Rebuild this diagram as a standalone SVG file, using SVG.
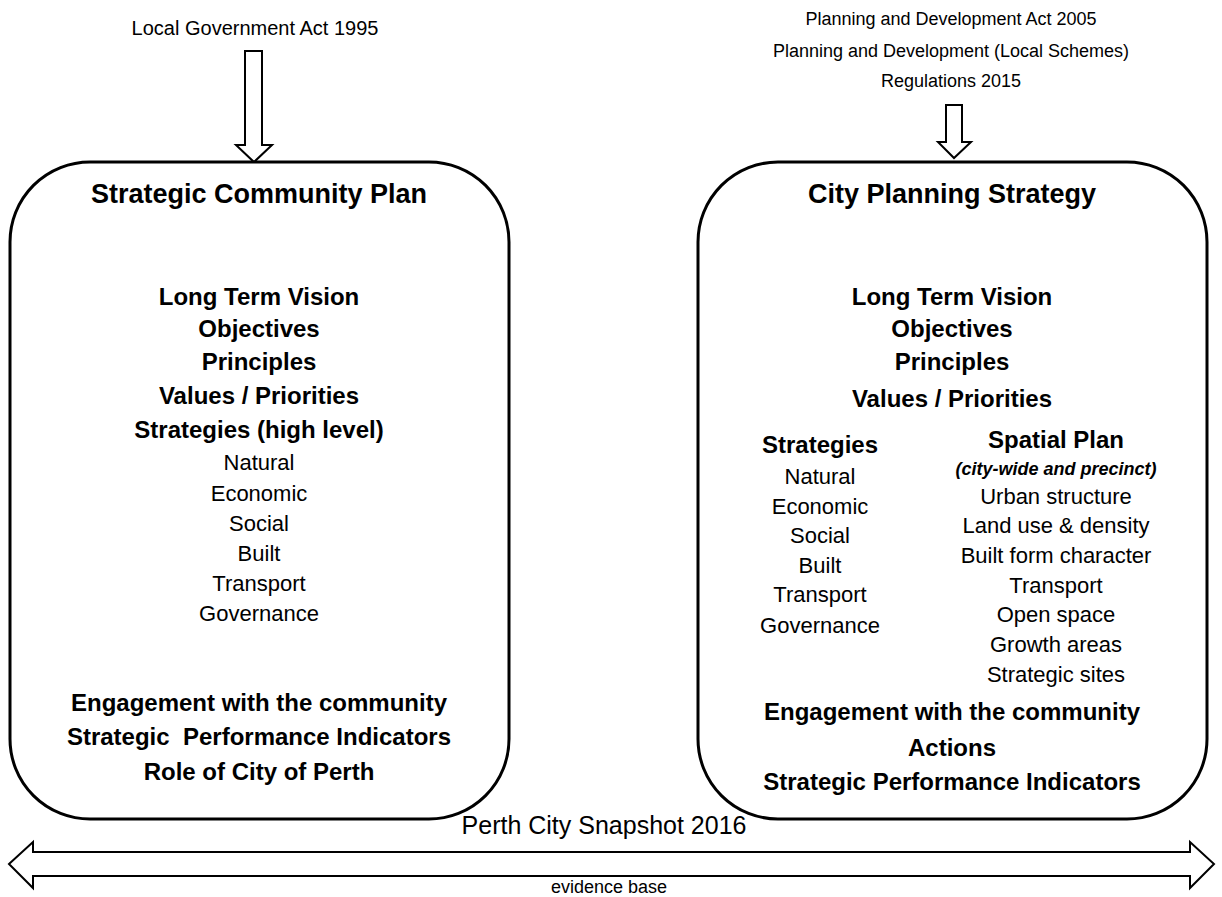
<svg xmlns="http://www.w3.org/2000/svg" width="1222" height="897" viewBox="0 0 1222 897">
<style>
text{font-family:"Liberation Sans",Arial,sans-serif;fill:#000;text-anchor:middle}
.t{font-size:27px;font-weight:bold}
.b{font-size:24px;font-weight:bold}
.r{font-size:22px}
.bi{font-size:18px;font-weight:bold;font-style:italic}
.src{font-size:20px}
.box{fill:#fff;stroke:#000;stroke-width:3}
.arr{fill:#fff;stroke:#000;stroke-width:2;stroke-linejoin:miter}
</style>
<rect width="1222" height="897" fill="#fff"/>
<g id="connectors">
<polygon class="arr" points="245,51 262,51 262,145 272,145 254,162 236,145 245,145"/>
<polygon class="arr" points="946,105 962,105 962,142 971,142 954,158 938,142 946,142"/>
<polygon class="arr" points="9,864 33,842 33,852 1190,852 1190,842 1214,864 1190,888 1190,876 33,876 33,888"/>
</g>
<g id="src-lga">
<text class="src" x="255" y="35" style="font-size:20px">Local Government Act 1995</text>
</g>
<g id="src-pda">
<text class="src" x="951" y="25" style="font-size:18px">Planning and Development Act 2005</text>
<text class="src" x="951" y="57" style="font-size:18px">Planning and Development (Local Schemes)</text>
<text class="src" x="951" y="87" style="font-size:18px">Regulations 2015</text>
</g>
<g id="scp">
<rect class="box" x="10" y="162" width="499" height="657" rx="80" ry="80"/>
<text class="t" x="259" y="203">Strategic Community Plan</text>
<text class="b" x="259" y="305">Long Term Vision</text>
<text class="b" x="259" y="337">Objectives</text>
<text class="b" x="259" y="370">Principles</text>
<text class="b" x="259" y="404">Values / Priorities</text>
<text class="b" x="259" y="438">Strategies (high level)</text>
<text class="r" x="259" y="470">Natural</text>
<text class="r" x="259" y="501">Economic</text>
<text class="r" x="259" y="531">Social</text>
<text class="r" x="259" y="561">Built</text>
<text class="r" x="259" y="591">Transport</text>
<text class="r" x="259" y="621">Governance</text>
<text class="b" x="259" y="711">Engagement with the community</text>
<text class="b" x="259" y="745" style="white-space:pre">Strategic  Performance Indicators</text>
<text class="b" x="259" y="780">Role of City of Perth</text>
</g>
<g id="cps">
<rect class="box" x="698" y="162" width="509" height="657" rx="80" ry="80"/>
<text class="t" x="952" y="203">City Planning Strategy</text>
<text class="b" x="952" y="305">Long Term Vision</text>
<text class="b" x="952" y="337">Objectives</text>
<text class="b" x="952" y="370">Principles</text>
<text class="b" x="952" y="407">Values / Priorities</text>
<text class="b" x="820" y="453">Strategies</text>
<text class="r" x="820" y="484">Natural</text>
<text class="r" x="820" y="514">Economic</text>
<text class="r" x="820" y="543">Social</text>
<text class="r" x="820" y="573">Built</text>
<text class="r" x="820" y="602">Transport</text>
<text class="r" x="820" y="633">Governance</text>
<text class="b" x="1056" y="448">Spatial Plan</text>
<text class="bi" x="1056" y="475">(city-wide and precinct)</text>
<text class="r" x="1056" y="504">Urban structure</text>
<text class="r" x="1056" y="533">Land use &amp; density</text>
<text class="r" x="1056" y="563">Built form character</text>
<text class="r" x="1056" y="593">Transport</text>
<text class="r" x="1056" y="622">Open space</text>
<text class="r" x="1056" y="652">Growth areas</text>
<text class="r" x="1056" y="682">Strategic sites</text>
<text class="b" x="952" y="720">Engagement with the community</text>
<text class="b" x="952" y="756">Actions</text>
<text class="b" x="952" y="790">Strategic Performance Indicators</text>
</g>
<g id="evidence">
<text x="604" y="834" style="font-size:25px">Perth City Snapshot 2016</text>
<text x="609" y="893" style="font-size:18px">evidence base</text>
</g>
</svg>
